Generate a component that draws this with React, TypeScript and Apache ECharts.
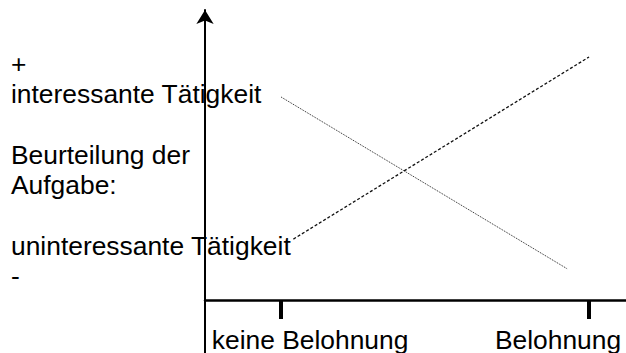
import React, { useEffect, useRef } from "react";
import * as echarts from "echarts";

const xTickValues = [1, 2];
const xTickLabels = ["keine Belohnung", "Belohnung"];
const yAxisText = [
  "+",
  "interessante Tätigkeit",
  "",
  "Beurteilung der",
  "Aufgabe:",
  "",
  "uninteressante Tätigkeit",
  "-",
];
const seriesNames = ["interessante Tätigkeit", "uninteressante Tätigkeit"];
const interessanteX = [1.0, 1.93];
const interessanteY = [70.0, 10.7];
const uninteressanteX = [1.04, 2.0];
const uninteressanteY = [21.0, 83.8];

const FONT = "'Liberation Sans', Arial, sans-serif";
const FS = 26.4;

export default function App() {
  const ref = useRef<HTMLDivElement>(null);
  useEffect(() => {
    if (!ref.current) return;
    const chart = echarts.init(ref.current, null, { renderer: "svg" });
    chart.setOption({
      animation: false,
      backgroundColor: "#ffffff",
      title: {
        text: yAxisText.join("\n"),
        left: 11,
        top: 49,
        padding: 0,
        textStyle: {
          fontSize: FS,
          lineHeight: 30.3,
          fontWeight: "normal",
          color: "#000",
          fontFamily: FONT,
        },
      },
      grid: {
        left: 205,
        right: 0,
        top: 10,
        bottom: 53,
        outerBoundsMode: "none",
        containLabel: false,
      },
      xAxis: {
        type: "value",
        min: 0.753,
        max: 2.12,
        splitLine: { show: false },
        axisLine: { onZero: false, lineStyle: { color: "#000", width: 2.5 } },
        axisTick: {
          show: true,
          customValues: xTickValues,
          length: 19,
          lineStyle: { color: "#000", width: 4 },
        },
        axisLabel: {
          show: true,
          customValues: xTickValues,
          margin: 27,
          color: "#000",
          fontSize: FS,
          fontFamily: FONT,
          formatter: (v: number) => {
            const i = xTickValues.indexOf(v);
            if (i < 0) return "";
            return i === 0 ? `{l|${xTickLabels[i]}}` : `{r|${xTickLabels[i]}}`;
          },
          rich: {
            l: { fontSize: FS, fontFamily: FONT, color: "#000", padding: [0, 0, 0, 58] },
            r: { fontSize: FS, fontFamily: FONT, color: "#000", padding: [0, 62, 0, 0] },
          },
        },
      },
      yAxis: {
        type: "value",
        min: 0,
        max: 100,
        splitLine: { show: false },
        axisTick: { show: false },
        axisLabel: { show: false },
        axisLine: {
          show: true,
          onZero: false,
          symbol: ["none", "arrow"],
          symbolSize: [13, 14],
          lineStyle: { color: "#000", width: 2 },
        },
      },
      graphic: [
        {
          type: "line",
          shape: { x1: 205, y1: 300, x2: 205, y2: 353 },
          style: { stroke: "#000", lineWidth: 2 },
          silent: true,
        },
      ],
      series: [
        {
          name: seriesNames[0],
          type: "line",
          symbol: "none",
          data: interessanteX.map((x, i) => [x, interessanteY[i]]),
          lineStyle: { color: "#222", width: 1, type: [1, 1] },
        },
        {
          name: seriesNames[1],
          type: "line",
          symbol: "none",
          data: uninteressanteX.map((x, i) => [x, uninteressanteY[i]]),
          lineStyle: { color: "#111", width: 1.3, type: [3, 2] },
        },
      ],
    });
    return () => chart.dispose();
  }, []);
  return (
    <div
      ref={ref}
      style={{ position: "fixed", left: 0, top: 0, width: 626, height: 353 }}
    />
  );
}
